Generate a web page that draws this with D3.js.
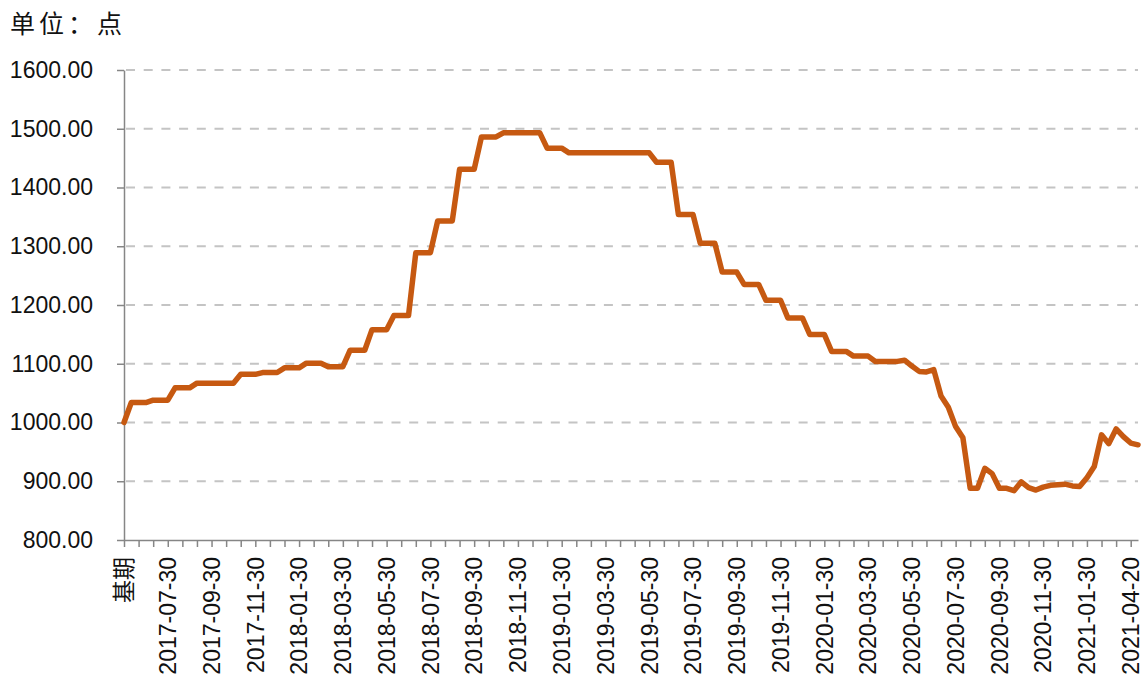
<!DOCTYPE html>
<html>
<head>
<meta charset="utf-8">
<script src="https://d3js.org/d3.v7.min.js"></script>
<style>
  body { margin: 0; background: #fff; }
  svg text { font-family: "Liberation Sans", Arial, "Noto Sans CJK SC", sans-serif; }
</style>
</head>
<body>
<script>
const TITLE = "单位：点";

// ten-day periods, 基期 first
const CATEGORIES = [
  "基期",
  "2017-06-10","2017-06-20","2017-06-30","2017-07-10","2017-07-20","2017-07-30",
  "2017-08-10","2017-08-20","2017-08-30","2017-09-10","2017-09-20","2017-09-30",
  "2017-10-10","2017-10-20","2017-10-30","2017-11-10","2017-11-20","2017-11-30",
  "2017-12-10","2017-12-20","2017-12-30",
  "2018-01-10","2018-01-20","2018-01-30","2018-02-10","2018-02-20","2018-02-28",
  "2018-03-10","2018-03-20","2018-03-30","2018-04-10","2018-04-20","2018-04-30",
  "2018-05-10","2018-05-20","2018-05-30","2018-06-10","2018-06-20","2018-06-30",
  "2018-07-10","2018-07-20","2018-07-30","2018-08-10","2018-08-20","2018-08-30",
  "2018-09-10","2018-09-20","2018-09-30","2018-10-10","2018-10-20","2018-10-30",
  "2018-11-10","2018-11-20","2018-11-30","2018-12-10","2018-12-20","2018-12-30",
  "2019-01-10","2019-01-20","2019-01-30","2019-02-10","2019-02-20","2019-02-28",
  "2019-03-10","2019-03-20","2019-03-30","2019-04-10","2019-04-20","2019-04-30",
  "2019-05-10","2019-05-20","2019-05-30","2019-06-10","2019-06-20","2019-06-30",
  "2019-07-10","2019-07-20","2019-07-30","2019-08-10","2019-08-20","2019-08-30",
  "2019-09-10","2019-09-20","2019-09-30","2019-10-10","2019-10-20","2019-10-30",
  "2019-11-10","2019-11-20","2019-11-30","2019-12-10","2019-12-20","2019-12-30",
  "2020-01-10","2020-01-20","2020-01-30","2020-02-10","2020-02-20","2020-02-28",
  "2020-03-10","2020-03-20","2020-03-30","2020-04-10","2020-04-20","2020-04-30",
  "2020-05-10","2020-05-20","2020-05-30","2020-06-10","2020-06-20","2020-06-30",
  "2020-07-10","2020-07-20","2020-07-30","2020-08-10","2020-08-20","2020-08-30",
  "2020-09-10","2020-09-20","2020-09-30","2020-10-10","2020-10-20","2020-10-30",
  "2020-11-10","2020-11-20","2020-11-30","2020-12-10","2020-12-20","2020-12-30",
  "2021-01-10","2021-01-20","2021-01-30","2021-02-28",
  "2021-03-10","2021-03-20","2021-03-30","2021-04-10","2021-04-20","2021-04-30"
];

const VALUES = [
  1000,
  1034, 1034, 1034, 1038, 1038, 1038, 1059, 1059, 1059, 1067, 1067, 1067,
  1067, 1067, 1067, 1082, 1082, 1082, 1085, 1085, 1085,
  1093, 1093, 1093, 1101, 1101, 1101, 1095, 1095, 1095, 1123, 1123, 1123,
  1158, 1158, 1158, 1182, 1182, 1182, 1289, 1289, 1289, 1343, 1343, 1343,
  1431, 1431, 1431, 1486, 1486, 1486, 1493, 1493, 1493, 1493, 1493, 1493,
  1467, 1467, 1467, 1459, 1459, 1459, 1459, 1459, 1459, 1459, 1459, 1459,
  1459, 1459, 1459, 1443, 1443, 1443, 1354, 1354, 1354, 1305, 1305, 1305,
  1256, 1256, 1256, 1235, 1235, 1235, 1208, 1208, 1208, 1178, 1178, 1178,
  1150, 1150, 1150, 1121, 1121, 1121, 1113, 1113, 1113, 1104, 1104, 1104,
  1104, 1106, 1096, 1087, 1086, 1090, 1045, 1026, 993, 974, 888, 888,
  922, 913, 888, 888, 884, 899, 889, 885, 890, 893, 894, 895,
  892, 891, 906, 925,
  979, 964, 989, 976, 965, 962
];

const TICK_LABELS = [
  "基期", "2017-07-30", "2017-09-30", "2017-11-30", "2018-01-30", "2018-03-30",
  "2018-05-30", "2018-07-30", "2018-09-30", "2018-11-30", "2019-01-30", "2019-03-30",
  "2019-05-30", "2019-07-30", "2019-09-30", "2019-11-30", "2020-01-30", "2020-03-30",
  "2020-05-30", "2020-07-30", "2020-09-30", "2020-11-30", "2021-01-30", "2021-04-20"
];

const Y_TICKS = [800, 900, 1000, 1100, 1200, 1300, 1400, 1500, 1600];

const WIDTH = 1148;
const HEIGHT = 684;
const LEFT = 124;
const RIGHT = 1138;
const TOP = 70;
const BOTTOM = 540;
const AXIS_COLOR = '#868686';

const svg = d3.select('body')
  .append('svg')
  .attr('width', WIDTH)
  .attr('height', HEIGHT);

const x = d3.scalePoint().domain(CATEGORIES).range([LEFT, RIGHT]);
const y = d3.scaleLinear().domain([800, 1600]).range([BOTTOM, TOP]);

// title
svg.append('text')
  .attr('x', 10)
  .attr('y', 33)
  .attr('font-size', 25)
  .attr('letter-spacing', 4)
  .attr('fill', '#111')
  .style('font-family', '"Noto Sans CJK SC", sans-serif')
  .text(TITLE);

// dashed gridlines
svg.append('g')
  .selectAll('line')
  .data(Y_TICKS.slice(1))
  .enter()
  .append('line')
  .attr('x1', LEFT + 2)
  .attr('x2', RIGHT)
  .attr('y1', d => y(d))
  .attr('y2', d => y(d))
  .attr('stroke', '#c4c4c4')
  .attr('stroke-width', 2)
  .attr('stroke-dasharray', '9,8.7');

// y axis
const yAxis = svg.append('g')
  .attr('transform', `translate(${LEFT},0)`)
  .call(d3.axisLeft(y)
    .tickValues(Y_TICKS)
    .tickFormat(d3.format('.2f'))
    .tickSizeInner(7)
    .tickSizeOuter(0)
    .tickPadding(24));

yAxis.select('.domain').attr('stroke', AXIS_COLOR).attr('stroke-width', 1.5);
yAxis.selectAll('.tick line').attr('stroke', AXIS_COLOR).attr('stroke-width', 1.5);
yAxis.selectAll('.tick text')
  .attr('font-size', 23)
  .attr('fill', '#111')
  .style('font-family', '"Liberation Sans", Arial, sans-serif');

// x axis: tick every 2 periods
const xAxis = svg.append('g')
  .attr('transform', `translate(0,${BOTTOM})`)
  .call(d3.axisBottom(x)
    .tickValues(CATEGORIES.filter((d, i) => i % 2 == 0))
    .tickFormat('')
    .tickSizeInner(7)
    .tickSizeOuter(0));

xAxis.select('.domain').attr('stroke', AXIS_COLOR).attr('stroke-width', 1.5);
xAxis.selectAll('.tick line').attr('stroke', AXIS_COLOR).attr('stroke-width', 1.5);

// rotated category labels
svg.append('g')
  .selectAll('text')
  .data(TICK_LABELS)
  .enter()
  .append('text')
  .attr('transform', d => `translate(${x(d)},557) rotate(-90)`)
  .attr('text-anchor', 'end')
  .attr('dy', '0.36em')
  .attr('font-size', 23)
  .attr('fill', '#111')
  .text(d => d);

// the line
const line = d3.line()
  .x((d, i) => x(CATEGORIES[i]))
  .y(d => y(d));

svg.append('path')
  .datum(VALUES)
  .attr('d', line)
  .attr('fill', 'none')
  .attr('stroke', '#c65911')
  .attr('stroke-width', 5.5)
  .attr('stroke-linejoin', 'round')
  .attr('stroke-linecap', 'round');
</script>
</body>
</html>
